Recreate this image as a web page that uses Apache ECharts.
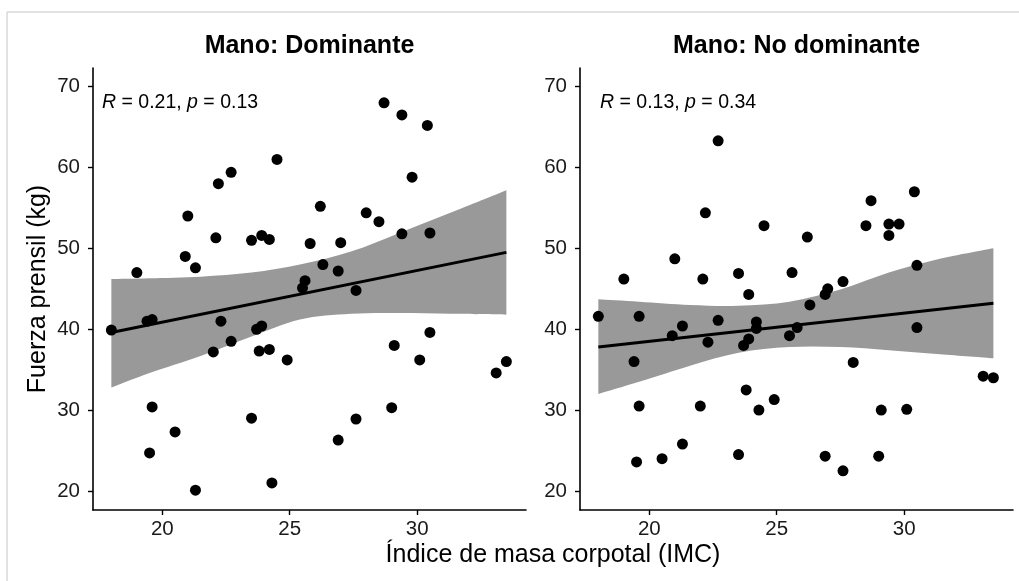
<!DOCTYPE html>
<html>
<head>
<meta charset="utf-8">
<script src="https://cdn.jsdelivr.net/npm/echarts@6/dist/echarts.min.js"></script>
<style>
  html, body { margin: 0; padding: 0; background: #fff; }
  #chart { width: 1019px; height: 581px; }
</style>
</head>
<body>
<div id="chart"></div>
<script>
// IMC de cada sujeto (mismo eje x en los dos paneles)
var imc = [18.0, 19.0, 19.4, 19.5, 19.6, 19.6, 20.5, 20.9, 21.0, 21.3, 21.3, 22.0, 22.1, 22.2, 22.3, 22.7, 22.7,
  23.5, 23.5, 23.7, 23.8, 23.9, 23.9, 24.2, 24.2, 24.3, 24.5, 24.9, 25.5, 25.6, 25.8, 26.2, 26.3, 26.9, 26.9,
  27.0, 27.6, 27.6, 28.0, 28.5, 28.7, 29.0, 29.1, 29.4, 29.4, 29.8, 30.1, 30.4, 30.5, 30.5, 33.1, 33.5];
// fuerza prensil (kg), mano dominante
var fuerzaDom = [39.9, 47.0, 41.0, 24.7, 41.2, 30.4, 27.3, 49.0, 54.0, 47.6, 20.1, 37.2, 51.3, 58.0, 41.0, 59.4, 38.5,
  51.0, 29.0, 40.0, 37.3, 51.6, 40.4, 51.1, 37.5, 21.0, 61.0, 36.2, 45.1, 46.0, 50.6, 55.2, 48.0, 47.2, 26.3,
  50.7, 44.8, 28.9, 54.4, 53.3, 68.0, 30.3, 38.0, 66.5, 51.8, 58.8, 36.2, 65.2, 51.9, 39.6, 34.6, 36.0];
// fuerza prensil (kg), mano no dominante
var fuerzaNoDom = [41.6, 46.2, 36.0, 23.6, 41.6, 30.5, 24.0, 39.2, 48.7, 40.4, 25.8, 30.5, 46.2, 54.4, 38.4, 41.1, 63.3,
  46.9, 24.5, 38.0, 32.5, 44.3, 38.8, 40.9, 40.1, 30.0, 52.8, 31.3, 39.2, 47.0, 40.2, 51.4, 43.0, 44.3, 24.3,
  45.0, 45.9, 22.5, 35.9, 52.8, 55.9, 24.3, 30.0, 53.0, 51.6, 53.0, 30.1, 57.0, 47.9, 40.2, 34.2, 34.0];

// recta de regresion (extremos) y banda de confianza
var ajusteDom = [[18.0, 39.6], [33.5, 49.5]];
var ajusteNoDom = [[18.0, 37.8], [33.5, 43.2]];
var bandaXDom = [18, 19.5, 21.5, 23.5, 25.4, 27.4, 29.3, 31.3, 33.5];
var bandaSupDom = [46.2, 46.3, 46.5, 47.0, 48.0, 49.6, 51.9, 54.4, 57.2];
var bandaInfDom = [32.8, 34.6, 36.7, 39.1, 41.2, 41.9, 42.0, 41.9, 41.8];
var bandaXNoDom = [18, 19.6, 21.6, 23.5, 25.5, 27.5, 29.4, 31.4, 33.5];
var bandaSupNoDom = [43.7, 43.4, 43.0, 42.9, 43.4, 44.9, 47.0, 48.7, 50.0];
var bandaInfNoDom = [32.0, 33.5, 35.5, 37.1, 37.8, 37.8, 37.4, 36.9, 36.4];

var ticksX = [20, 25, 30];
var ticksY = [20, 30, 40, 50, 60, 70];
var titulos = ['Mano: Dominante', 'Mano: No dominante'];
var etiquetasCor = ['{i|R} = 0.21, {i|p} = 0.13', '{i|R} = 0.13, {i|p} = 0.34'];

var FONT = '"Liberation Sans", Arial, sans-serif';

function zip(xs, ys) {
  return xs.map(function (x, i) { return [x, ys[i]]; });
}

// curva suave (catmull-rom -> bezier) que pasa por los puntos en pixeles
function tramoSuave(pts) {
  var d = '';
  for (var i = 0; i < pts.length - 1; i++) {
    var p0 = pts[i - 1] || pts[i], p1 = pts[i], p2 = pts[i + 1], p3 = pts[i + 2] || pts[i + 1];
    var c1 = [p1[0] + (p2[0] - p0[0]) / 6, p1[1] + (p2[1] - p0[1]) / 6];
    var c2 = [p2[0] - (p3[0] - p1[0]) / 6, p2[1] - (p3[1] - p1[1]) / 6];
    d += ' C' + c1[0] + ' ' + c1[1] + ' ' + c2[0] + ' ' + c2[1] + ' ' + p2[0] + ' ' + p2[1];
  }
  return d;
}

function renderBanda(params, api) {
  if (params.dataIndexInside !== 0) return;
  var n = params.dataInsideLength;
  var sup = [], inf = [];
  for (var i = 0; i < n; i++) {
    var x = api.value(0, i);
    inf.push(api.coord([x, api.value(1, i)]));
    sup.push(api.coord([x, api.value(2, i)]));
  }
  var infRev = inf.slice().reverse();
  var path = 'M' + sup[0][0] + ' ' + sup[0][1] + tramoSuave(sup) +
    ' L' + infRev[0][0] + ' ' + infRev[0][1] + tramoSuave(infRev) + ' Z';
  return {
    type: 'path',
    shape: { pathData: path },
    style: { fill: '#999999', stroke: null }
  };
}

function xAxisDe(idx) {
  return {
    type: 'value', gridIndex: idx, min: 17.28, max: 34.27,
    axisLine: { show: true, onZero: false, lineStyle: { color: '#000', width: 1.6 } },
    axisTick: { show: true, length: 5, customValues: ticksX, lineStyle: { color: '#000', width: 1.4 } },
    axisLabel: { customValues: ticksX, color: '#1a1a1a', fontSize: 20.5, fontFamily: FONT, margin: 9 },
    splitLine: { show: false }
  };
}

function yAxisDe(idx) {
  return {
    type: 'value', gridIndex: idx, min: 17.65, max: 72.3,
    axisLine: { show: true, onZero: false, lineStyle: { color: '#000', width: 1.6 } },
    axisTick: { show: true, length: 5, customValues: ticksY, lineStyle: { color: '#000', width: 1.4 } },
    axisLabel: { customValues: ticksY, color: '#1a1a1a', fontSize: 20.5, fontFamily: FONT, margin: 13 },
    splitLine: { show: false }
  };
}

function seriesPanel(idx, bx, bInf, bSup, ajuste, ys) {
  return [
    {
      type: 'custom', xAxisIndex: idx, yAxisIndex: idx, silent: true, z: 1,
      renderItem: renderBanda,
      encode: { x: 0, y: [1, 2] },
      data: bx.map(function (x, i) { return [x, bInf[i], bSup[i]]; })
    },
    {
      type: 'line', xAxisIndex: idx, yAxisIndex: idx, symbol: 'none', silent: true,
      lineStyle: { color: '#000', width: 3 }, z: 3,
      data: ajuste
    },
    {
      type: 'scatter', xAxisIndex: idx, yAxisIndex: idx, symbolSize: 11, z: 4,
      itemStyle: { color: '#000', opacity: 1 },
      data: zip(imc, ys)
    }
  ];
}

var chart = echarts.init(document.getElementById('chart'), null, { renderer: 'canvas' });

var option = {
  backgroundColor: '#fff',
  animation: false,
  grid: [
    { left: 93, top: 68, width: 433, height: 442 },
    { left: 580, top: 68, width: 433, height: 442 }
  ],
  xAxis: [xAxisDe(0), xAxisDe(1)],
  yAxis: [yAxisDe(0), yAxisDe(1)],
  series: seriesPanel(0, bandaXDom, bandaInfDom, bandaSupDom, ajusteDom, fuerzaDom)
    .concat(seriesPanel(1, bandaXNoDom, bandaInfNoDom, bandaSupNoDom, ajusteNoDom, fuerzaNoDom)),
  graphic: [
    // marco gris del recorte
    { type: 'line', silent: true, shape: { x1: 7, y1: 12, x2: 1019, y2: 12 }, style: { stroke: '#d9d9d9', lineWidth: 1.5 } },
    { type: 'line', silent: true, shape: { x1: 7, y1: 12, x2: 7, y2: 581 }, style: { stroke: '#d9d9d9', lineWidth: 1.5 } },
    // titulos de panel
    { type: 'text', x: 309.5, y: 46, style: { text: titulos[0], fill: '#000', font: 'bold 25px ' + FONT, align: 'center', verticalAlign: 'middle' } },
    { type: 'text', x: 796.5, y: 46, style: { text: titulos[1], fill: '#000', font: 'bold 25px ' + FONT, align: 'center', verticalAlign: 'middle' } },
    // R y p
    { type: 'text', x: 102, y: 103, style: { text: etiquetasCor[0], fill: '#000', fontSize: 19.5, fontFamily: FONT, verticalAlign: 'middle',
        rich: { i: { fontStyle: 'italic', fontSize: 19.5, fontFamily: FONT, fill: '#000' } } } },
    { type: 'text', x: 600, y: 103, style: { text: etiquetasCor[1], fill: '#000', fontSize: 19.5, fontFamily: FONT, verticalAlign: 'middle',
        rich: { i: { fontStyle: 'italic', fontSize: 19.5, fontFamily: FONT, fill: '#000' } } } },
    // titulos de ejes
    { type: 'text', x: 553, y: 555, style: { text: 'Índice de masa corpotal (IMC)', fill: '#000', fontSize: 25, fontFamily: FONT, align: 'center', verticalAlign: 'middle' } },
    { type: 'text', x: 38, y: 289, rotation: Math.PI / 2, style: { text: 'Fuerza prensil (kg)', fill: '#000', fontSize: 25, fontFamily: FONT, align: 'center', verticalAlign: 'middle' } }
  ]
};

chart.setOption(option);
</script>
</body>
</html>
